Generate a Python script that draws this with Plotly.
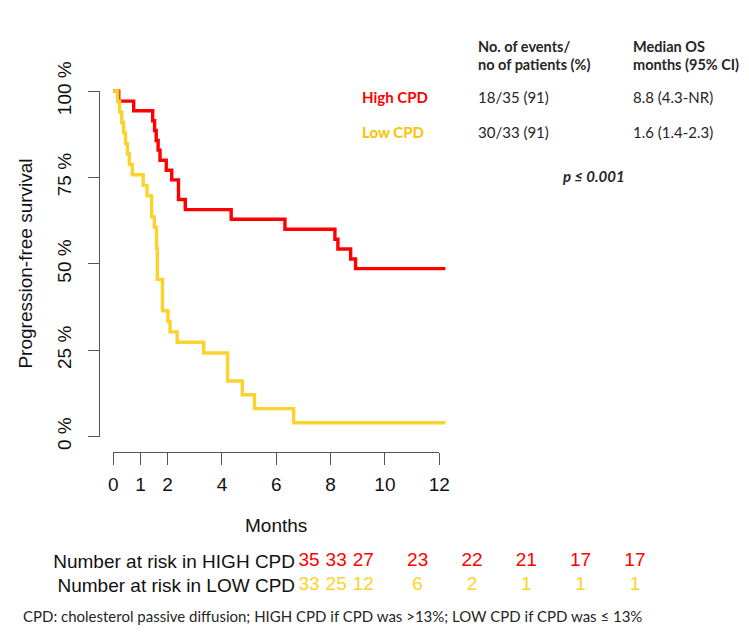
import plotly.graph_objects as go

W, H = 749, 640

# Kaplan-Meier steps (months, % progression-free)
high_time = [0, 0.2, 0.75, 1.45, 1.52, 1.58, 1.65, 1.72, 1.95, 2.15, 2.4, 2.65,
             4.34, 6.32, 8.16, 8.27, 8.74, 8.92, 12.23]
high_surv = [100, 97.1, 94.3, 91.4, 88.6, 85.7, 82.9, 80.0, 77.1, 74.3, 68.6, 65.7,
             62.9, 60.0, 57.1, 54.3, 51.4, 48.6, 48.6]

low_time = [0, 0.16, 0.23, 0.31, 0.38, 0.45, 0.52, 0.59, 0.7, 1.1, 1.24, 1.41,
            1.51, 1.59, 1.62, 1.81, 2.01, 2.09, 2.35, 3.33, 4.21, 4.75, 5.2, 6.64, 12.23]
low_surv = [100, 97.0, 93.9, 90.9, 87.9, 84.8, 81.8, 78.8, 75.8, 72.7, 69.7, 63.6,
            60.6, 54.5, 45.5, 36.4, 33.3, 30.3, 27.3, 24.2, 16.1, 12.1, 8.1, 4.0, 4.0]

risk_months = [0, 1, 2, 4, 6, 8, 10, 12]
risk_high = [35, 33, 27, 23, 22, 21, 17, 17]
risk_low = [33, 25, 12, 6, 2, 1, 1, 1]

month_ticks = [0, 1, 2, 4, 6, 8, 10, 12]
pct_ticks = [0, 25, 50, 75, 100]
pct_labels = ["0 %", "25 %", "50 %", "75 %", "100 %"]

high_row = "Number at risk in HIGH CPD"
low_row = "Number at risk in LOW CPD"

RED = "#FF0000"
YELLOW = "#FCD22C"
ORANGE = "#FFC000"
AXIS = "#555555"
ARIAL = "Liberation Sans"
CALIBRI = "Lato"


def px(x):
    return x / W


def py(y):
    return 1 - y / H


# pixel geometry of the original figure
x0, x12 = 102.5, 435.5        # month 0 and month 12
sx = (x12 - x0) / 12
y0, y100 = 428, 57            # 0 % and 100 %
sy = (y0 - y100) / 100
rx0 = 302.5                   # number-at-risk column for month 0

fig = go.Figure()

# empty trace so the subplot carrying the drawn axes exists
fig.add_trace(go.Scatter(x=[None], y=[None], xaxis="x", yaxis="y",
                         mode="lines", hoverinfo="skip"))

fig.add_trace(go.Scatter(x=high_time, y=high_surv, mode="lines",
                         line=dict(color=RED, width=3.4, shape="hv"),
                         xaxis="x2", yaxis="y2", hoverinfo="skip"))
fig.add_trace(go.Scatter(x=low_time, y=low_surv, mode="lines",
                         line=dict(color=YELLOW, width=3.4, shape="hv"),
                         xaxis="x2", yaxis="y2", hoverinfo="skip"))

fig.add_trace(go.Scatter(x=risk_months, y=[high_row] * len(risk_months), mode="text",
                         text=[str(v) for v in risk_high],
                         textfont=dict(color=RED, size=19, family=ARIAL),
                         xaxis="x3", yaxis="y3", cliponaxis=False, hoverinfo="skip"))
fig.add_trace(go.Scatter(x=risk_months, y=[low_row] * len(risk_months), mode="text",
                         text=[str(v) for v in risk_low],
                         textfont=dict(color=YELLOW, size=19, family=ARIAL),
                         xaxis="x3", yaxis="y3", cliponaxis=False, hoverinfo="skip"))

axis_font = dict(family=ARIAL, size=19, color="#111111")

fig.update_layout(
    width=W, height=H,
    margin=dict(l=0, r=0, t=0, b=0),
    paper_bgcolor="white", plot_bgcolor="rgba(0,0,0,0)",
    showlegend=False,
    xaxis=dict(domain=[px(x0), px(x12)], range=[0, 12], anchor="free", position=py(444.5),
               showline=True, linecolor=AXIS, linewidth=1, ticks="outside", ticklen=12,
               tickcolor=AXIS, tickvals=month_ticks, tickfont=axis_font,
               ticklabelstandoff=3, showgrid=False, zeroline=False, fixedrange=True),
    yaxis=dict(domain=[py(y0), py(y100)], range=[0, 100], anchor="free", position=px(88),
               showline=True, linecolor=AXIS, linewidth=1, ticks="outside", ticklen=11,
               tickcolor=AXIS, tickvals=pct_ticks, ticktext=pct_labels, tickangle=-90,
               tickfont=axis_font, ticklabelstandoff=10, showgrid=False, zeroline=False,
               fixedrange=True),
    xaxis2=dict(domain=[px(x0 - 0.3 * sx), px(x0 + 12.5 * sx)], range=[-0.3, 12.5],
                anchor="y2", visible=False),
    yaxis2=dict(domain=[py(y0 + 3 * sy), py(y100 - 3 * sy)], range=[-3, 103],
                anchor="x2", visible=False),
    xaxis3=dict(domain=[px(rx0), px(rx0 + 12 * sx)], range=[0, 12],
                anchor="y3", visible=False),
    yaxis3=dict(domain=[py(600), py(549)], type="category",
                categoryorder="array", categoryarray=[low_row, high_row], range=[-0.5, 1.5],
                anchor="x3", showline=False, ticks="", showgrid=False, zeroline=False,
                tickfont=dict(family=ARIAL, size=19, color="#111111"),
                ticklabelstandoff=13),
)


def note(text, x, y, size=15, color="#262626", family=CALIBRI, xanchor="left", **kw):
    fig.add_annotation(text=text, x=px(x), y=py(y), xref="paper", yref="paper",
                       xanchor=xanchor, yanchor="middle", showarrow=False,
                       font=dict(family=family, size=size, color=color), **kw)


note("Progression-free survival", 13, (y0 + y100) / 2, size=19, color="#111111",
     family=ARIAL, xanchor="center", textangle=-90)
note("Months", (x0 + x12) / 2, 524, size=19, color="#111111", family=ARIAL,
     xanchor="center")

note("<b>No. of events/</b>", 473, 9, size=14.5)
note("<b>no of patients (%)</b>", 473, 28, size=14.5)
note("<b>Median OS</b>", 631, 9, size=14.5)
note("<b>months (95% CI)</b>", 631, 28, size=14.5)
note("<b>High CPD</b>", 355, 63, color=RED)
note("<b>Low CPD</b>", 355, 101, color=ORANGE)
note("18/35 (91)", 473, 63)
note("30/33 (91)", 473, 101)
note("8.8 (4.3-NR)", 631, 63)
note("1.6 (1.4-2.3)", 631, 101)
note("<b><i>p ≤ 0.001</i></b>", 560, 148)
note("CPD: cholesterol passive diffusion; HIGH CPD if CPD was >13%; LOW CPD if CPD was ≤ 13%",
     8, 621)

fig.write_html("out.html")
